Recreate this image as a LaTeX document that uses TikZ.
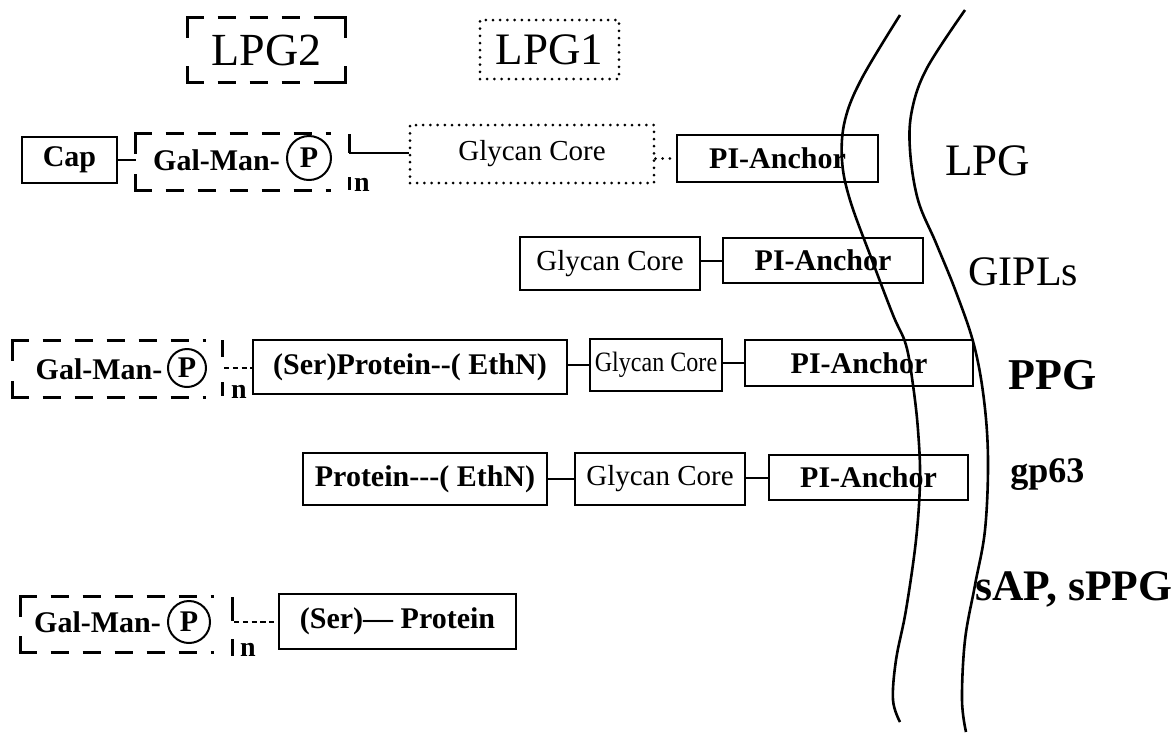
\documentclass[tikz,border=0pt]{standalone}
\usepackage{fontspec}
\setmainfont{Liberation Serif}
\usetikzlibrary{positioning}

\tikzset{
  unitbox/.style={draw, line width=1.2pt, inner sep=0pt, font=\bfseries\fontsize{15}{18}\selectfont},
  corebox/.style={draw, line width=1.2pt, inner sep=0pt, font=\fontsize{14.5}{17}\selectfont},
  dotbox/.style={draw, line width=1.5pt, line cap=round, dash pattern=on 0pt off 3.6pt, inner sep=0pt},
  holder/.style={inner sep=0pt},
  corner/.style={line width=1.5pt},
  dashside/.style={line width=1.5pt, dash pattern=on 9pt off 7pt, dash phase=9pt},
  link/.style={line width=1pt},
  dotlink/.style={line width=1.5pt, line cap=round, dash pattern=on 0pt off 3.6pt},
  dashlink/.style={line width=1pt, dash pattern=on 2.6pt off 1.8pt},
  pcircle/.style={circle, draw, line width=1pt, inner sep=0pt, font=\bfseries\fontsize{15}{18}\selectfont},
  galtext/.style={inner sep=0pt, font=\bfseries\fontsize{15}{18}\selectfont},
  rep/.style={inner sep=0pt, font=\bfseries\fontsize{14}{16}\selectfont},
  membrane/.style={line width=1.3pt},
  kind/.style={inner sep=0pt, anchor=base west}
}

\begin{document}
\begin{tikzpicture}[x=0.5pt, y=-0.5pt]
  \useasboundingbox (0,0) rectangle (1174,736);

  % legend boxes
  \node[holder, minimum width=78.5pt, minimum height=32pt] (lpgtwo) at (266.5,50) {};
  \node[inner sep=0pt, font=\fontsize{23}{26}\selectfont] (lpgtwotext) at (266.5,50) {LPG2};
  \node[dotbox, minimum width=69.5pt, minimum height=29.5pt, font=\fontsize{22.5}{26}\selectfont] (lpgone) at (549.5,49.5) {LPG1};

  % LPG row
  \node[unitbox, minimum width=47.5pt, minimum height=23pt] (capA) at (69.5,160) {Cap};
  \node[holder, minimum width=97.5pt, minimum height=28pt] (galA) at (233.5,162) {};
  \node[galtext] (galAtext) at (216.5,160) {Gal-Man-};
  \node[pcircle, minimum size=22pt] (pA) at (309,158) {P};
  \node[dotbox, minimum width=122pt, minimum height=29pt, font=\fontsize{14.5}{17}\selectfont] (gcA) at (532,154) {Glycan Core};
  \node[unitbox, minimum width=100.5pt, minimum height=23.5pt] (piA) at (777.5,158.5) {PI-Anchor};
  \coordinate (brA) at (349,153);
  \node[rep] (nA) at (362,185) {n};

  % GIPLs row
  \node[corebox, minimum width=90pt, minimum height=26.5pt] (gcB) at (610,263.5) {Glycan Core};
  \node[unitbox, minimum width=100pt, minimum height=22.5pt] (piB) at (823,260.5) {PI-Anchor};

  % PPG row
  \node[holder, minimum width=96.5pt, minimum height=28pt] (galC) at (109.5,369) {};
  \node[galtext] (galCtext) at (99,369) {Gal-Man-};
  \node[pcircle, minimum size=19pt] (pC) at (187,368) {P};
  \coordinate (brC) at (224,368);
  \node[rep] (nC) at (239,391.5) {n};
  \node[unitbox, minimum width=157pt, minimum height=27pt] (serC) at (410,367) {(Ser)Protein-{}-( EthN)};
  \node[corebox, minimum width=66pt, minimum height=26pt, font=\fontsize{14}{17}\selectfont\addfontfeatures{FakeStretch=0.86}] (gcC) at (656,365) {Glycan Core};
  \node[unitbox, minimum width=114pt, minimum height=23pt] (piC) at (859,363) {PI-Anchor};

  % gp63 row
  \node[unitbox, minimum width=122pt, minimum height=26pt] (protD) at (425,479) {Protein-{}-{}-( EthN)};
  \node[corebox, minimum width=85pt, minimum height=26pt] (gcD) at (660,479) {Glycan Core};
  \node[unitbox, minimum width=99.5pt, minimum height=22.5pt] (piD) at (868.5,477.5) {PI-Anchor};

  % sAP row
  \node[holder, minimum width=96.5pt, minimum height=27.5pt] (galE) at (117.5,624.5) {};
  \node[galtext] (galEtext) at (97.5,622) {Gal-Man-};
  \node[pcircle, minimum size=21pt] (pE) at (189,622) {P};
  \coordinate (brE) at (234,621.5);
  \node[rep] (nE) at (248,650) {n};
  \node[unitbox, minimum width=118.5pt, minimum height=27.5pt] (serE) at (397.5,621.5) {(Ser)— Protein};

  % dashed brackets
  \foreach \b in {lpgtwo,galA,galC,galE}{
    \draw[corner] ([yshift=-10pt]\b.north west) |- ([xshift=8pt]\b.north west);
    \draw[corner] ([yshift=8pt]\b.south west) |- ([xshift=8pt]\b.south west);
    \draw[dashside] ([xshift=8pt]\b.north west) -- (\b.north east);
    \draw[dashside] ([xshift=8pt]\b.south west) -- (\b.south east);
  }
  \draw[corner] ([yshift=-10pt]lpgtwo.north east) |- ([xshift=-8pt]lpgtwo.north east);
  \draw[corner] ([yshift=8pt]lpgtwo.south east) |- ([xshift=-8pt]lpgtwo.south east);

  % closing brackets
  \draw[corner] (349,134) -- (brA);
  \draw[corner] (349,177) -- (349,190);
  \draw[corner] (222,340) -- (222,357);
  \draw[corner] (222,382) -- (222,396);
  \draw[corner] (232,597) -- (232,621);
  \draw[corner] (232,639) -- (232,656);

  % links
  \draw[link] (capA.east) -- (capA.east -| galA.west);
  \draw[link] (brA) -- (brA -| gcA.west);
  \draw[dotlink] (piA.west -| gcA.east) -- (piA.west);
  \draw[link] (piB.west -| gcB.east) -- (piB.west);
  \draw[dashlink] (brC) -- (brC -| serC.west);
  \draw[link] (serC.east |- gcC.west) -- (gcC.west);
  \draw[link] (gcC.east |- piC.west) -- (piC.west);
  \draw[link] (protD.east) -- (protD.east -| gcD.west);
  \draw[link] (gcD.east |- piD.west) -- (piD.west);
  \draw[dashlink] (brE) -- (serE.west);

  % membrane
  \draw[membrane] plot[smooth, tension=0.6] coordinates {(900,15) (862,78) (845,120) (842,160) (850,200) (872,260) (893,315) (906,345) (913,385) (918,430) (920,480) (916,540) (906,610) (896,660) (893,700) (900,722)};
  \draw[membrane] plot[smooth, tension=0.6] coordinates {(965,10) (927,68) (912,110) (910,150) (918,200) (936,243) (956,292) (974,345) (984,400) (988,460) (985,530) (975,585) (965,640) (962,700) (966,732)};

  % molecule names
  \node[kind, font=\fontsize{22.5}{26}\selectfont] (lpg) at (945,175) {LPG};
  \node[kind, font=\fontsize{21}{24}\selectfont] (gipl) at (968,285) {GIPLs};
  \node[kind, font=\bfseries\fontsize{22}{26}\selectfont] (ppg) at (1008,389) {PPG};
  \node[kind, font=\bfseries\fontsize{18}{22}\selectfont] (gpsix) at (1010,482) {gp63};
  \node[kind, font=\bfseries\fontsize{21.8}{24}\selectfont] (sap) at (975,600) {sAP, sPPG};
\end{tikzpicture}
\end{document}
